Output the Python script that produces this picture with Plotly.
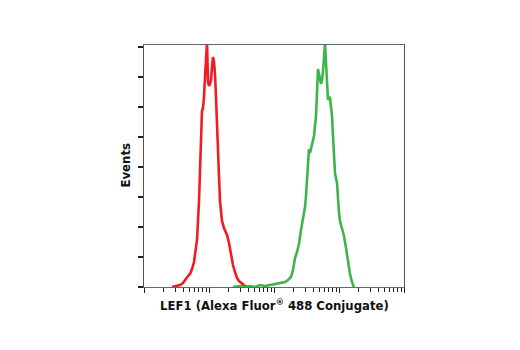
import plotly.graph_objects as go

# Red population (isotype / negative) - fluorescence intensity and event counts
red_x = [2.70, 3.11, 3.58, 3.98, 4.43, 4.75, 5.10, 5.48, 5.88, 6.09, 6.54, 7.02, 7.27, 7.53,
         7.80, 8.09, 8.38, 8.68, 8.99, 9.32, 9.65, 10.0, 10.36, 10.73, 11.12, 11.52, 11.94,
         12.37, 12.81, 13.28, 13.75, 14.25, 14.76, 15.85, 17.01, 18.92, 20.31, 21.81, 23.40,
         25.12, 26.97, 28.94, 31.07, 33.35, 35.79, 39.81]
red_y = [0, 1, 2, 4, 9, 11, 13, 18, 25, 31, 47, 86, 116, 146,
         176, 179, 190, 210, 230, 245, 205, 201, 203, 207, 220, 230, 225,
         213, 190, 168, 136, 111, 86, 66, 59, 52, 44, 32, 22,
         15, 9, 6, 4, 3, 1, 0]

# Green population (LEF1 Alexa Fluor 488)
green_x = [23.40, 30.00, 35.79, 42.73, 51.03, 60.90, 72.71, 86.79, 103.6, 123.7, 147.6, 164.2,
           182.6, 196.0, 210.5, 225.9, 242.4, 260.3, 279.4, 300.0, 310.7, 321.9, 333.5, 345.5,
           357.9, 384.2, 412.5, 442.9, 458.6, 475.3, 492.4, 510.3, 528.6, 547.7, 567.4, 587.8,
           609.0, 631.0, 653.8, 677.3, 701.9, 727.1, 753.3, 780.5, 808.5, 837.7, 867.9, 931.6,
           965.2, 1000, 1036, 1112, 1194, 1282, 1328, 1376, 1476, 1585, 1701]
green_y = [0, 1, 0, 1, 0, 2, 1, 2, 3, 4, 5, 7,
           10, 17, 29, 35, 43, 57, 68, 80, 91, 106, 126, 138,
           134, 142, 151, 171, 195, 218, 213, 209, 203, 207, 215, 230,
           243, 225, 207, 187, 189, 190, 180, 171, 151, 126, 114, 104,
           86, 74, 66, 59, 51, 39, 32, 22, 13, 5, 0]

decades = [1, 10, 100, 1000, 10000]
y_ticks = [0, 30, 60, 90, 120, 150, 180, 210, 240]

x_title = "LEF1 (Alexa Fluor<sup>®</sup> 488 Conjugate)"
y_title = "Events"

minor_vals = [d * k for d in decades[:-1] for k in range(2, 10)]

FONT = "DejaVu Sans Condensed, DejaVu Sans, Liberation Sans, sans-serif"

fig = go.Figure()
fig.add_trace(go.Scatter(x=red_x, y=red_y, mode="lines",
                         line=dict(color="#ee1c24", width=2.6), cliponaxis=True,
                         showlegend=False, hoverinfo="skip"))
fig.add_trace(go.Scatter(x=green_x, y=green_y, mode="lines",
                         line=dict(color="#3db548", width=2.6), cliponaxis=True,
                         showlegend=False, hoverinfo="skip"))

fig.update_layout(
    width=520, height=350,
    margin=dict(l=144, r=116, t=45, b=63),
    paper_bgcolor="white", plot_bgcolor="white",
    font=dict(family=FONT),
    xaxis=dict(type="log", range=[0, 4], showgrid=False, zeroline=False,
               showline=True, linecolor="#666666", linewidth=1.2, mirror=True,
               tickmode="array", tickvals=decades, ticks="outside", ticklen=5,
               tickcolor="#222222", tickwidth=1.2, showticklabels=False,
               minor=dict(tickmode="array", tickvals=minor_vals, ticks="outside",
                          ticklen=4, tickcolor="#222222", tickwidth=1, showgrid=False)),
    yaxis=dict(range=[0, 242], showgrid=False, zeroline=False,
               showline=True, linecolor="#555555", linewidth=1.2, mirror=True,
               tickmode="array", tickvals=y_ticks, ticks="outside", ticklen=5,
               tickcolor="#222222", tickwidth=1.5, showticklabels=False),
    annotations=[
        dict(text="<b>" + x_title + "</b>", xref="paper", yref="paper",
             x=0.5, y=-0.075, xanchor="center", yanchor="middle", showarrow=False,
             font=dict(family=FONT, size=13, color="#111111")),
        dict(text="<b>" + y_title + "</b>", xref="paper", yref="paper",
             x=-0.075, y=0.5, xanchor="center", yanchor="middle", showarrow=False,
             textangle=-90,
             font=dict(family=FONT, size=13, color="#111111")),
    ],
)

fig.write_html("out.html")
